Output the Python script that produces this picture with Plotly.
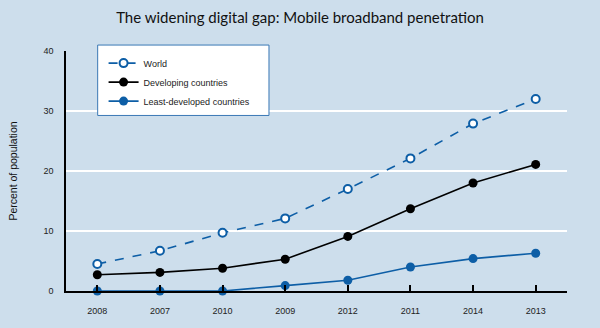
import plotly.graph_objects as go

years = ["2008", "2007", "2010", "2009", "2012", "2011", "2014", "2013"]
world = [4.5, 6.7, 9.7, 12.1, 17.0, 22.1, 27.9, 32.0]
developing = [2.7, 3.1, 3.8, 5.3, 9.1, 13.7, 18.0, 21.1]
ldc = [0.0, 0.0, 0.0, 0.9, 1.8, 4.0, 5.4, 6.3]
y_ticks = [0, 10, 20, 30, 40]

BLUE = "#0d5ea6"
BG = "#cddeec"
FONT = "Liberation Sans Narrow, Arial Narrow, Liberation Sans, Arial, sans-serif"

fig = go.Figure()
fig.add_trace(go.Scatter(
    x=years, y=world, name="World", mode="lines+markers",
    line=dict(color=BLUE, width=1.6, dash="dash"),
    marker=dict(symbol="circle", size=8, color="white", line=dict(color=BLUE, width=2)),
    cliponaxis=False))
fig.add_trace(go.Scatter(
    x=years, y=developing, name="Developing countries", mode="lines+markers",
    line=dict(color="black", width=1.6),
    marker=dict(symbol="circle", size=9, color="black"),
    cliponaxis=False))
fig.add_trace(go.Scatter(
    x=years, y=ldc, name="Least-developed countries", mode="lines+markers",
    line=dict(color=BLUE, width=1.6),
    marker=dict(symbol="circle", size=9, color=BLUE),
    cliponaxis=False))

fig.update_layout(
    width=600, height=328,
    margin=dict(l=61, r=33, t=51, b=35),
    paper_bgcolor=BG, plot_bgcolor=BG,
    font=dict(family=FONT, size=9, color="#222"),
    title=dict(text="The widening digital gap: Mobile broadband penetration",
               x=0.5, xanchor="center", y=0.945, yanchor="middle",
               font=dict(family="Lato, Open Sans, sans-serif", size=15, color="#111")),
    showlegend=True,
    legend=dict(x=0.075, y=1.01, xanchor="left", yanchor="top",
                bgcolor="rgba(0,0,0,0)", borderwidth=0,
                font=dict(family=FONT, size=9, color="#222"),
                itemwidth=30, tracegroupgap=0),
    shapes=[dict(type="rect", xref="paper", yref="paper",
                 x0=(93 - 61) / 506, x1=(266 - 61) / 506,
                 y0=(293 - 116) / 242, y1=(293 - 45) / 242,
                 fillcolor="white", line=dict(color="#3a78b5", width=1),
                 layer="above")],
)
fig.update_xaxes(
    type="category", categoryorder="array", categoryarray=years,
    range=[-0.5, 7.5], showgrid=False,
    showline=True, linecolor="black", linewidth=2,
    ticks="inside", ticklen=6, tickcolor="black", tickwidth=1.5,
    ticklabelstandoff=10,
    tickfont=dict(family=FONT, size=9, color="#222"), zeroline=False)
fig.update_yaxes(
    range=[0, 40], tickvals=y_ticks, showgrid=True, gridcolor="white", gridwidth=1.5,
    showline=True, linecolor="black", linewidth=1.5, zeroline=False, ticks="",
    ticklabelstandoff=9,
    tickfont=dict(family=FONT, size=9, color="#222"),
    title=dict(text="Percent of population", standoff=24,
               font=dict(family=FONT, size=10.5, color="#111")))

fig.write_html("out.html")
